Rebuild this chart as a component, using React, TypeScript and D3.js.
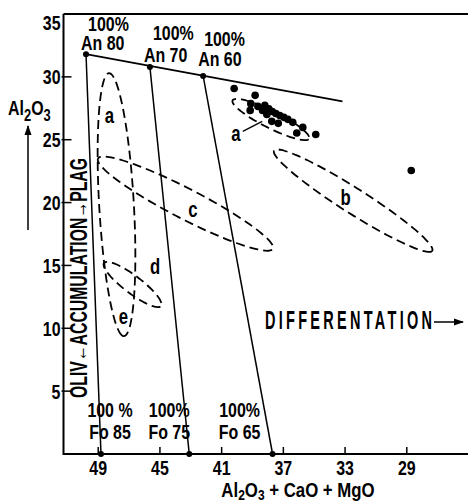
import React from "react";
import * as d3 from "d3";

// axis ticks
const xTicks = [49, 45, 41, 37, 33, 29];
const yTicks = [5, 10, 15, 20, 25, 30, 35];

// plagioclase apexes (An) and olivine ends (Fo)
const anNames = ["An 80", "An 70", "An 60"];
const anX = [49.79, 45.65, 42.2];
const anY = [31.8, 30.79, 30.07];
const foNames = ["Fo 85", "Fo 75", "Fo 65"];
const foX = [48.82, 43.1, 37.7];
const foY = [0, 0, 0];
const anLineEnd = [33.17, 28.05];

// analysed samples
const sampleX = [40.19, 38.83, 39.11, 39.15, 38.35, 37.94, 37.72, 37.49, 37.23, 36.97, 36.71, 36.39, 35.74, 34.9, 37.75, 37.33, 36.13, 38.2, 38.65, 38.07, 28.71];
const sampleY = [29.07, 28.53, 27.87, 27.33, 27.33, 27.45, 27.25, 27.09, 26.93, 26.78, 26.62, 26.38, 25.98, 25.42, 26.46, 26.3, 25.54, 27.73, 27.65, 27.0, 22.55];

// fields: ends of the long axis [x1, y1, x2, y2] and half width (wt% Al2O3)
const fieldEnds = [
  [48.3, 30.29, 47.33, 9.38],
  [40.29, 28.13, 35.33, 25.08],
  [37.6, 24.14, 27.35, 16.16],
  [49.01, 23.5, 37.68, 16.32],
  [48.62, 15.2, 44.93, 11.77],
];
const fieldHalfWidth = [1.38, 0.68, 1.0, 1.2, 0.7];

// field letters
const letterText = ["a", "e", "a", "b", "c", "d"];
const letterX = [48.28, 47.37, 40.08, 32.96, 42.86, 45.32];
const letterY = [26.93, 10.97, 25.5, 20.47, 19.51, 14.96];
const leaderA = [39.63, 25.66, 38.37, 26.46];

const W = 468;
const H = 503;
const FONT = "'Liberation Sans', Arial, sans-serif";
const SX = 0.76; // condensed look

// label offsets from the An / Fo points (px)
const anPctOff = [[2, -23], [3, -27], [1, -30]];
const anNameOff = [[-5, -4], [-6, -5], [-5, -10]];
const foCenterOff = [9, -20, -33];

function T({ x, y, size = 20, anchor = "start", dy, sx = SX, len, children }: any) {
  return (
    <text
      transform={`translate(${x},${y}) scale(${sx},1)`}
      textAnchor={anchor}
      dy={dy}
      fontFamily={FONT}
      fontWeight={700}
      fontSize={size}
      fill="#000"
      textLength={len ? len / sx : undefined}
      lengthAdjust={len ? "spacing" : undefined}
    >
      {children}
    </text>
  );
}

export default function App() {
  const x = d3.scaleLinear().domain([51.25, 25]).range([63.5, 468.5]);
  const y = d3.scaleLinear().domain([0, 35]).range([454, 14]);
  const x0 = x.range()[0];
  const y0 = y(0);
  const yTop = y(35);

  const ellipse = (e: number[], hw: number) => {
    const [x1, y1, x2, y2] = e;
    const p1 = [x(x1), y(y1)];
    const p2 = [x(x2), y(y2)];
    const cx = (p1[0] + p2[0]) / 2;
    const cy = (p1[1] + p2[1]) / 2;
    const a = Math.hypot(p2[0] - p1[0], p2[1] - p1[1]) / 2;
    const ang = Math.atan2(p2[1] - p1[1], p2[0] - p1[0]);
    const b = Math.abs(y(0) - y(hw));
    const pts: [number, number][] = d3.range(0, 72).map((i) => {
      const t = (i / 72) * Math.PI * 2;
      return [
        cx + a * Math.cos(t) * Math.cos(ang) - b * Math.sin(t) * Math.sin(ang),
        cy + a * Math.cos(t) * Math.sin(ang) + b * Math.sin(t) * Math.cos(ang),
      ];
    });
    return d3.line().curve(d3.curveCardinalClosed)(pts) || "";
  };

  return (
    <svg width={W} height={H} style={{ position: "absolute", left: 0, top: 0, background: "#fff" }}>
      <defs>
        <marker id="arr" viewBox="0 0 10 10" refX="9" refY="5" markerWidth="7" markerHeight="7" orient="auto">
          <path d="M0,1.5 L10,5 L0,8.5 Z" fill="#000" />
        </marker>
      </defs>

      {/* frame */}
      <line x1={x0} x2={W} y1={yTop} y2={yTop} stroke="#000" strokeWidth={2} />
      <line x1={x0} x2={x0} y1={yTop} y2={y0 + 1} stroke="#000" strokeWidth={2} />
      <line x1={x0} x2={W} y1={y0} y2={y0} stroke="#000" strokeWidth={2} />

      {/* y ticks */}
      {yTicks.map((t) => (
        <g key={"y" + t}>
          {t < 35 && <line x1={x0 - 2} x2={x0 + 8} y1={y(t)} y2={y(t)} stroke="#000" strokeWidth={1.5} />}
          <T x={x0 - 3} y={Math.max(y(t), yTop + 8)} dy="0.36em" anchor="end" size={21}>
            {t}
          </T>
        </g>
      ))}

      {/* x ticks */}
      {xTicks.map((t) => (
        <g key={"x" + t}>
          <line x1={x(t)} x2={x(t)} y1={y0} y2={y0 - 7} stroke="#000" strokeWidth={1.5} />
          <T x={x(t)} y={y0 + 21} anchor="middle" size={21}>
            {t}
          </T>
        </g>
      ))}

      {/* An line and tie lines */}
      <line x1={x(anX[0])} y1={y(anY[0])} x2={x(anLineEnd[0])} y2={y(anLineEnd[1])} stroke="#000" strokeWidth={1.8} />
      {anX.map((ax, i) => (
        <line key={"tie" + i} x1={x(ax)} y1={y(anY[i])} x2={x(foX[i])} y2={y(foY[i])} stroke="#000" strokeWidth={1.5} />
      ))}
      {anX.map((ax, i) => (
        <circle key={"an" + i} cx={x(ax)} cy={y(anY[i])} r={3} fill="#000" />
      ))}
      {foX.map((fx, i) => (
        <circle key={"fo" + i} cx={x(fx)} cy={y(foY[i])} r={3} fill="#000" />
      ))}

      {/* An labels */}
      {anNames.map((n, i) => (
        <g key={"anl" + i}>
          <T x={x(anX[i]) + anPctOff[i][0]} y={y(anY[i]) + anPctOff[i][1]} size={21}>
            100%
          </T>
          <T x={x(anX[i]) + anNameOff[i][0]} y={y(anY[i]) + anNameOff[i][1]} size={21}>
            {n}
          </T>
        </g>
      ))}

      {/* Fo labels */}
      {foNames.map((n, i) => (
        <g key={"fol" + i}>
          <T x={x(foX[i]) + foCenterOff[i]} y={y0 - 37} anchor="middle" size={21}>
            {i === 0 ? "100 %" : "100%"}
          </T>
          <T x={x(foX[i]) + foCenterOff[i]} y={y0 - 15} anchor="middle" size={21}>
            {n}
          </T>
        </g>
      ))}

      {/* fields */}
      {fieldEnds.map((e, i) => (
        <path key={"f" + i} d={ellipse(e, fieldHalfWidth[i])} fill="none" stroke="#000" strokeWidth={1.8} strokeDasharray="9 5" />
      ))}
      {letterText.map((l, i) => (
        <T key={"l" + i} x={x(letterX[i])} y={y(letterY[i])} dy="0.36em" anchor="middle" size={22}>
          {l}
        </T>
      ))}
      <line x1={x(leaderA[0])} y1={y(leaderA[1])} x2={x(leaderA[2])} y2={y(leaderA[3])} stroke="#000" strokeWidth={1.3} />

      {/* samples */}
      {sampleX.map((sx, i) => (
        <circle key={"s" + i} cx={x(sx)} cy={y(sampleY[i])} r={3.8} fill="#000" />
      ))}

      {/* y axis title */}
      <T x={8} y={115} size={21}>
        Al<tspan dy={6} fontSize={17}>2</tspan>
        <tspan dy={-6}>O</tspan>
        <tspan dy={6} fontSize={17}>3</tspan>
      </T>
      <line x1={28} x2={28} y1={230} y2={126} stroke="#000" strokeWidth={1.5} markerEnd="url(#arr)" />

      {/* x axis title */}
      <T x={298} y={497} anchor="middle" size={21} sx={0.8}>
        Al<tspan dy={3} fontSize={15}>2</tspan>
        <tspan dy={-3}>O</tspan>
        <tspan dy={3} fontSize={15}>3</tspan>
        <tspan dy={-3}> + CaO + MgO</tspan>
      </T>

      {/* vertical note */}
      <text
        transform={`translate(87,398) rotate(-90)`}
        fontFamily={FONT}
        fontWeight={700}
        fontSize={23}
        textLength={240}
        lengthAdjust="spacingAndGlyphs"
        fill="#000"
      >
        OLIV←ACCUMULATION→PLAG
      </text>

      {/* differentiation */}
      <T x={265} y={329} size={25} sx={0.58} len={167}>
        DIFFERENTATION
      </T>
      <line x1={434} x2={463} y1={322} y2={322} stroke="#000" strokeWidth={1.5} markerEnd="url(#arr)" />
    </svg>
  );
}
